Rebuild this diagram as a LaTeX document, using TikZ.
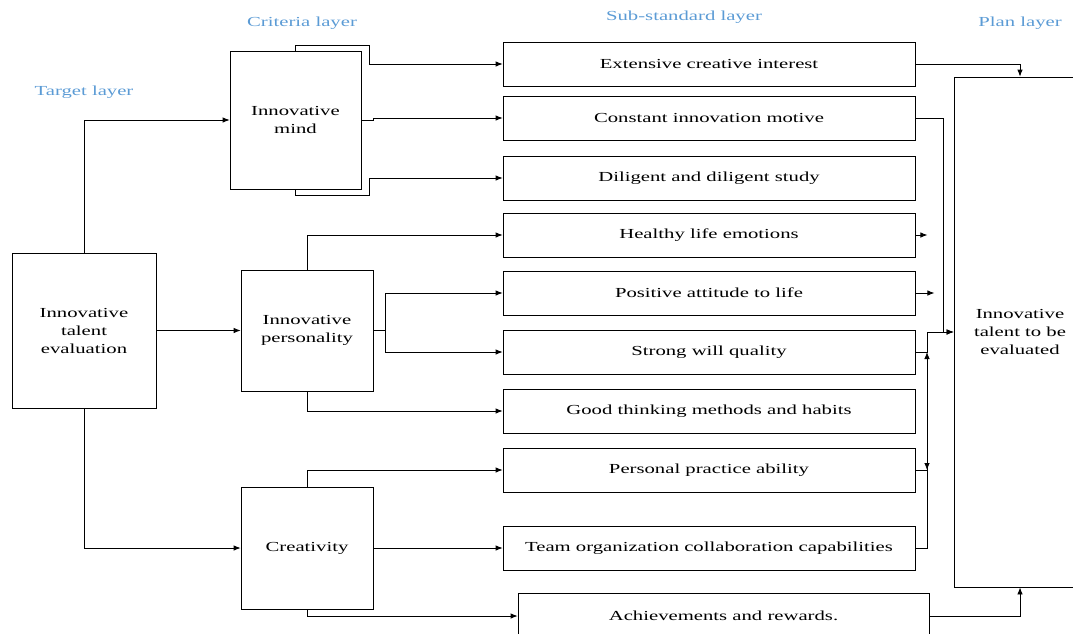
\documentclass[tikz,border=0pt]{standalone}
\usepackage{fontspec}
\setmainfont{Liberation Serif}[FakeStretch=1.5]
\usetikzlibrary{arrows.meta}
\definecolor{lbl}{HTML}{5B9BD5}
\begin{document}
\begin{tikzpicture}[x=1pt,y=-1pt,
  font=\fontsize{13.8}{18}\selectfont,
  box/.style={draw, line width=0.8pt, align=center, inner sep=0pt},
  sub/.style={box, minimum width=412pt, minimum height=44pt},
  arr/.style={-{Latex[length=7pt,width=5.5pt]}, line width=0.8pt},
  ln/.style={line width=0.8pt},
  layer/.style={text=lbl}]
\useasboundingbox (0,0) rectangle (1073,633);
\clip (0,0) rectangle (1073,633);

% layer labels
\node[layer] (L1) at (84,92) {Target layer};
\node[layer] (L2) at (302,23) {Criteria layer};
\node[layer] (L3) at (684,17) {Sub-standard layer};
\node[layer] (L4) at (1020,23) {Plan layer};

% main boxes
\node[box, minimum width=144pt, minimum height=155pt] (tgt) at (84,330.5) {Innovative\\talent\\evaluation};
\node[box, minimum width=131pt, minimum height=138pt] (mind) at (295.5,120) {Innovative\\mind};
\node[box, minimum width=132pt, minimum height=121pt] (pers) at (307,330.5) {Innovative\\personality};
\node[box, minimum width=132pt, minimum height=122pt] (crea) at (307,548) {Creativity};

\node[sub] (s1) at (709,64) {Extensive creative interest};
\node[sub] (s2) at (709,118) {Constant innovation motive};
\node[sub] (s3) at (709,178) {Diligent and diligent study};
\node[sub] (s4) at (709,235) {Healthy life emotions};
\node[sub] (s5) at (709,293) {Positive attitude to life};
\node[sub] (s6) at (709,352) {Strong will quality};
\node[sub] (s7) at (709,411) {Good thinking methods and habits};
\node[sub] (s8) at (709,470) {Personal practice ability};
\node[sub] (s9) at (709,548) {Team organization collaboration capabilities};
\node[box, minimum width=411pt, minimum height=46pt] (s10) at (723.5,616) {Achievements and rewards.};

\node[box, minimum width=132pt, minimum height=510pt] (plan) at (1020,332) {Innovative\\talent to be\\evaluated};

% target -> criteria
\draw[arr] (tgt.north) |- (mind.west);
\draw[arr] (tgt.east) -- (pers.west);
\draw[arr] (tgt.south) |- (crea.west);

% mind -> sub
\draw[arr] (mind.north) |- (369,45) |- (s1.west);
\draw[arr] (mind.east) -- (373,120) -- (373,118) -- (s2.west);
\draw[arr] (mind.south) |- (369,195) |- (s3.west);

% personality -> sub
\draw[arr] (pers.north) |- (s4.west);
\coordinate (pj) at (385,330.5);
\draw[ln] (pers.east) -- (pj);
\draw[arr] (pj) |- (s5.west);
\draw[arr] (pj) |- (s6.west);
\draw[arr] (pers.south) |- (s7.west);

% creativity -> sub
\draw[arr] (crea.north) |- (s8.west);
\draw[arr] (crea.east) -- (s9.west);
\draw[arr] (crea.south) |- (s10.west);

% sub -> plan
\draw[arr] (s1.east) -| (plan.north);
\draw[arr] (s2.east) -| (943,332) -- (plan.west);
\draw[arr] (s4.east) -- ++(12,0);
\draw[arr] (s5.east) -- ++(19,0);
\coordinate (rj) at (927,352);
\draw[arr] (s6.east) -- (rj) |- (plan.west);
\draw[arr] (s9.east) -| (rj);
\draw[ln] (s8.east) -- (927,470);
\draw[arr] (927,458) -- (927,470);
\draw[arr] (s10.east) -| (plan.south);
\end{tikzpicture}
\end{document}
